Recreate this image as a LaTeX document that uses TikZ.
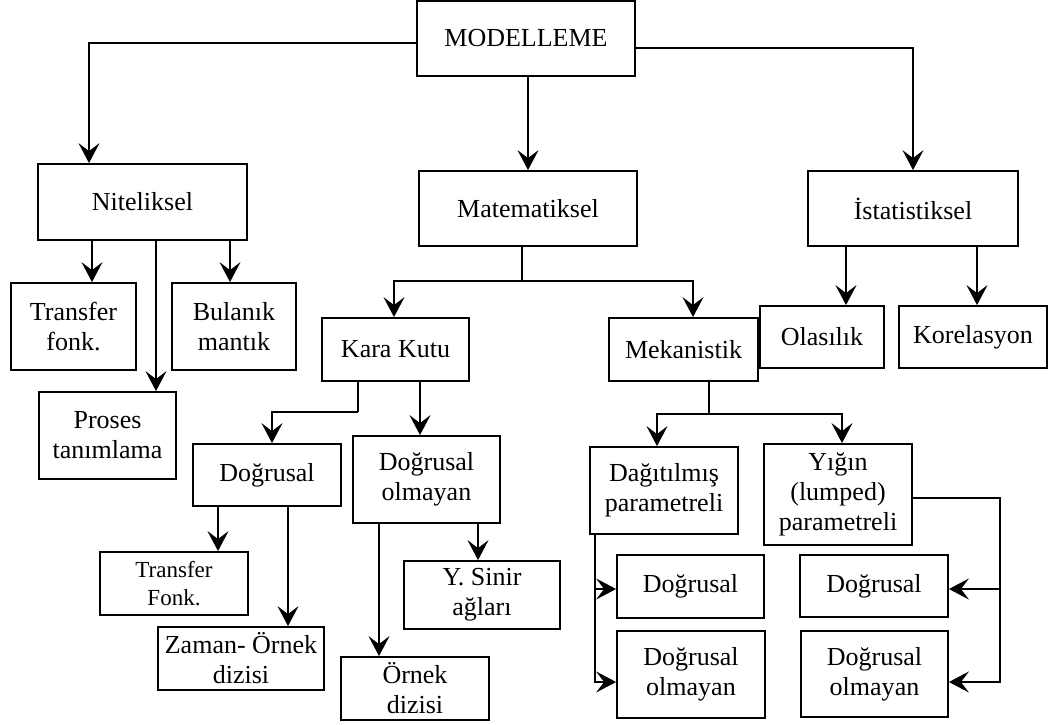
\documentclass[tikz,border=0pt]{standalone}
\usepackage{fontspec}
\setmainfont{Liberation Serif}
\usetikzlibrary{arrows.meta}
\begin{document}
\begin{tikzpicture}[x=1pt,y=-1pt,
  box/.style={draw,line width=1.8pt,inner sep=0pt,align=center,
    font=\fontsize{26}{30}\selectfont},
  ln/.style={line width=1.8pt},
  arr/.style={line width=1.8pt,-{Stealth[length=20pt,width=21pt,inset=8pt]}}]
\useasboundingbox (0,0) rectangle (1059,724);
% level 0
\node[box,minimum width=218pt,minimum height=75pt] (M) at (526,38.5) {MODELLEME};
% level 1
\node[box,minimum width=209pt,minimum height=76pt] (N) at (142.5,202) {Niteliksel};
\node[box,minimum width=218pt,minimum height=75pt] (Mat) at (528,208.5) {Matematiksel};
\node[box,minimum width=210pt,minimum height=75pt] (I) at (913,208.5) {İstatistiksel};
% Niteliksel children
\node[box,minimum width=125pt,minimum height=87pt] (TF) at (73.5,326.5) {Transfer\\fonk.};
\node[box,minimum width=124pt,minimum height=87pt] (B) at (234,326.5) {Bulanık\\mantık};
\node[box,minimum width=137pt,minimum height=87pt] (P) at (107.5,435.5) {Proses\\tanımlama};
% Matematiksel children
\node[box,minimum width=147pt,minimum height=63pt] (KK) at (395.5,349.5) {Kara Kutu};
\node[box,minimum width=149pt,minimum height=63pt] (ME) at (683.5,349.5) {Mekanistik};
% Istatistiksel children
\node[box,minimum width=124pt,minimum height=62pt] (O) at (822,337) {Olasılık};
\node[box,minimum width=148pt,minimum height=62pt] (K) at (973,337) {Korelasyon};
% Kara Kutu children
\node[box,minimum width=148pt,minimum height=62pt] (D1) at (267,475) {Doğrusal};
\node[box,minimum width=147pt,minimum height=87pt] (DO1) at (426.5,479.5) {Doğrusal\\olmayan};
\node[box,minimum width=148pt,minimum height=63pt,font=\fontsize{23}{28}\selectfont] (TF2) at (174,583.5) {Transfer\\Fonk.};
\node[box,minimum width=166pt,minimum height=63pt] (Z) at (241,658.5) {Zaman- Örnek\\dizisi};
\node[box,minimum width=156pt,minimum height=68pt] (YS) at (482,595) {Y. Sinir\\ağları};
\node[box,minimum width=148pt,minimum height=63pt] (OD) at (415,688.5) {Örnek\\dizisi};
% Mekanistik children
\node[box,minimum width=148pt,minimum height=87pt] (DP) at (664,490.5) {Dağıtılmış\\parametreli};
\node[box,minimum width=148pt,minimum height=101pt] (LP) at (838,494.5) {Yığın\\(lumped)\\parametreli};
\node[box,minimum width=147pt,minimum height=63pt] (D2) at (690.5,586.5) {Doğrusal};
\node[box,minimum width=148pt,minimum height=87pt] (DO2) at (691,674.5) {Doğrusal\\olmayan};
\node[box,minimum width=148pt,minimum height=62pt] (D3) at (874,586) {Doğrusal};
\node[box,minimum width=147pt,minimum height=86pt] (DO3) at (874.5,674) {Doğrusal\\olmayan};
% junction coordinates
\coordinate (mj) at (522,281);
\coordinate (kj) at (358,412);
\coordinate (mej) at (709,414);
\coordinate (dpj) at (595,589);
\coordinate (lpj) at (1000,589);
% connectors level 0 -> 1
\draw[arr] (M.west |- 0,43) -| (N.north -| 89,0);
\draw[arr] (M.east |- 0,48) -| (I.north);
\draw[arr] (Mat.north |- M.south) -- (Mat.north);
% Niteliksel
\draw[arr] (N.south -| 92,0) -- (TF.north -| 92,0);
\draw[arr] (N.south -| 230,0) -- (B.north -| 230,0);
\draw[arr] (N.south -| 156,0) -- (P.north -| 156,0);
% Matematiksel
\draw[ln] (Mat.south -| mj) -- (mj);
\draw[arr] (mj) -| (KK.north -| 394,0);
\draw[arr] (mj) -| (ME.north -| 693,0);
% Istatistiksel
\draw[arr] (I.south -| 846,0) -- (O.north -| 846,0);
\draw[arr] (I.south -| 977,0) -- (K.north -| 977,0);
% Kara Kutu
\draw[ln] (KK.south -| kj) -- (kj);
\draw[arr] (kj) -| (D1.north -| 272,0);
\draw[arr] (KK.south -| 420,0) -- (DO1.north -| 420,0);
\draw[arr] (D1.south -| 218,0) -- (TF2.north -| 218,0);
\draw[arr] (D1.south -| 288,0) -- (Z.north -| 288,0);
\draw[arr] (DO1.south -| 379,0) -- (OD.north -| 379,0);
\draw[arr] (DO1.south -| 478,0) -- (YS.north -| 478,0);
% Mekanistik
\draw[ln] (ME.south -| mej) -- (mej);
\draw[arr] (mej) -| (DP.north -| 657,0);
\draw[arr] (mej) -| (LP.north -| 842,0);
\draw[arr] (DP.south -| dpj) |- (DO2.west |- 0,682);
\draw[arr] (dpj) -- (D2.west |- dpj);
\draw[arr] (LP.east |- 0,498) -| (lpj) |- (DO3.east |- 0,682);
\draw[arr] (lpj) -- (D3.east |- lpj);
\end{tikzpicture}
\end{document}
